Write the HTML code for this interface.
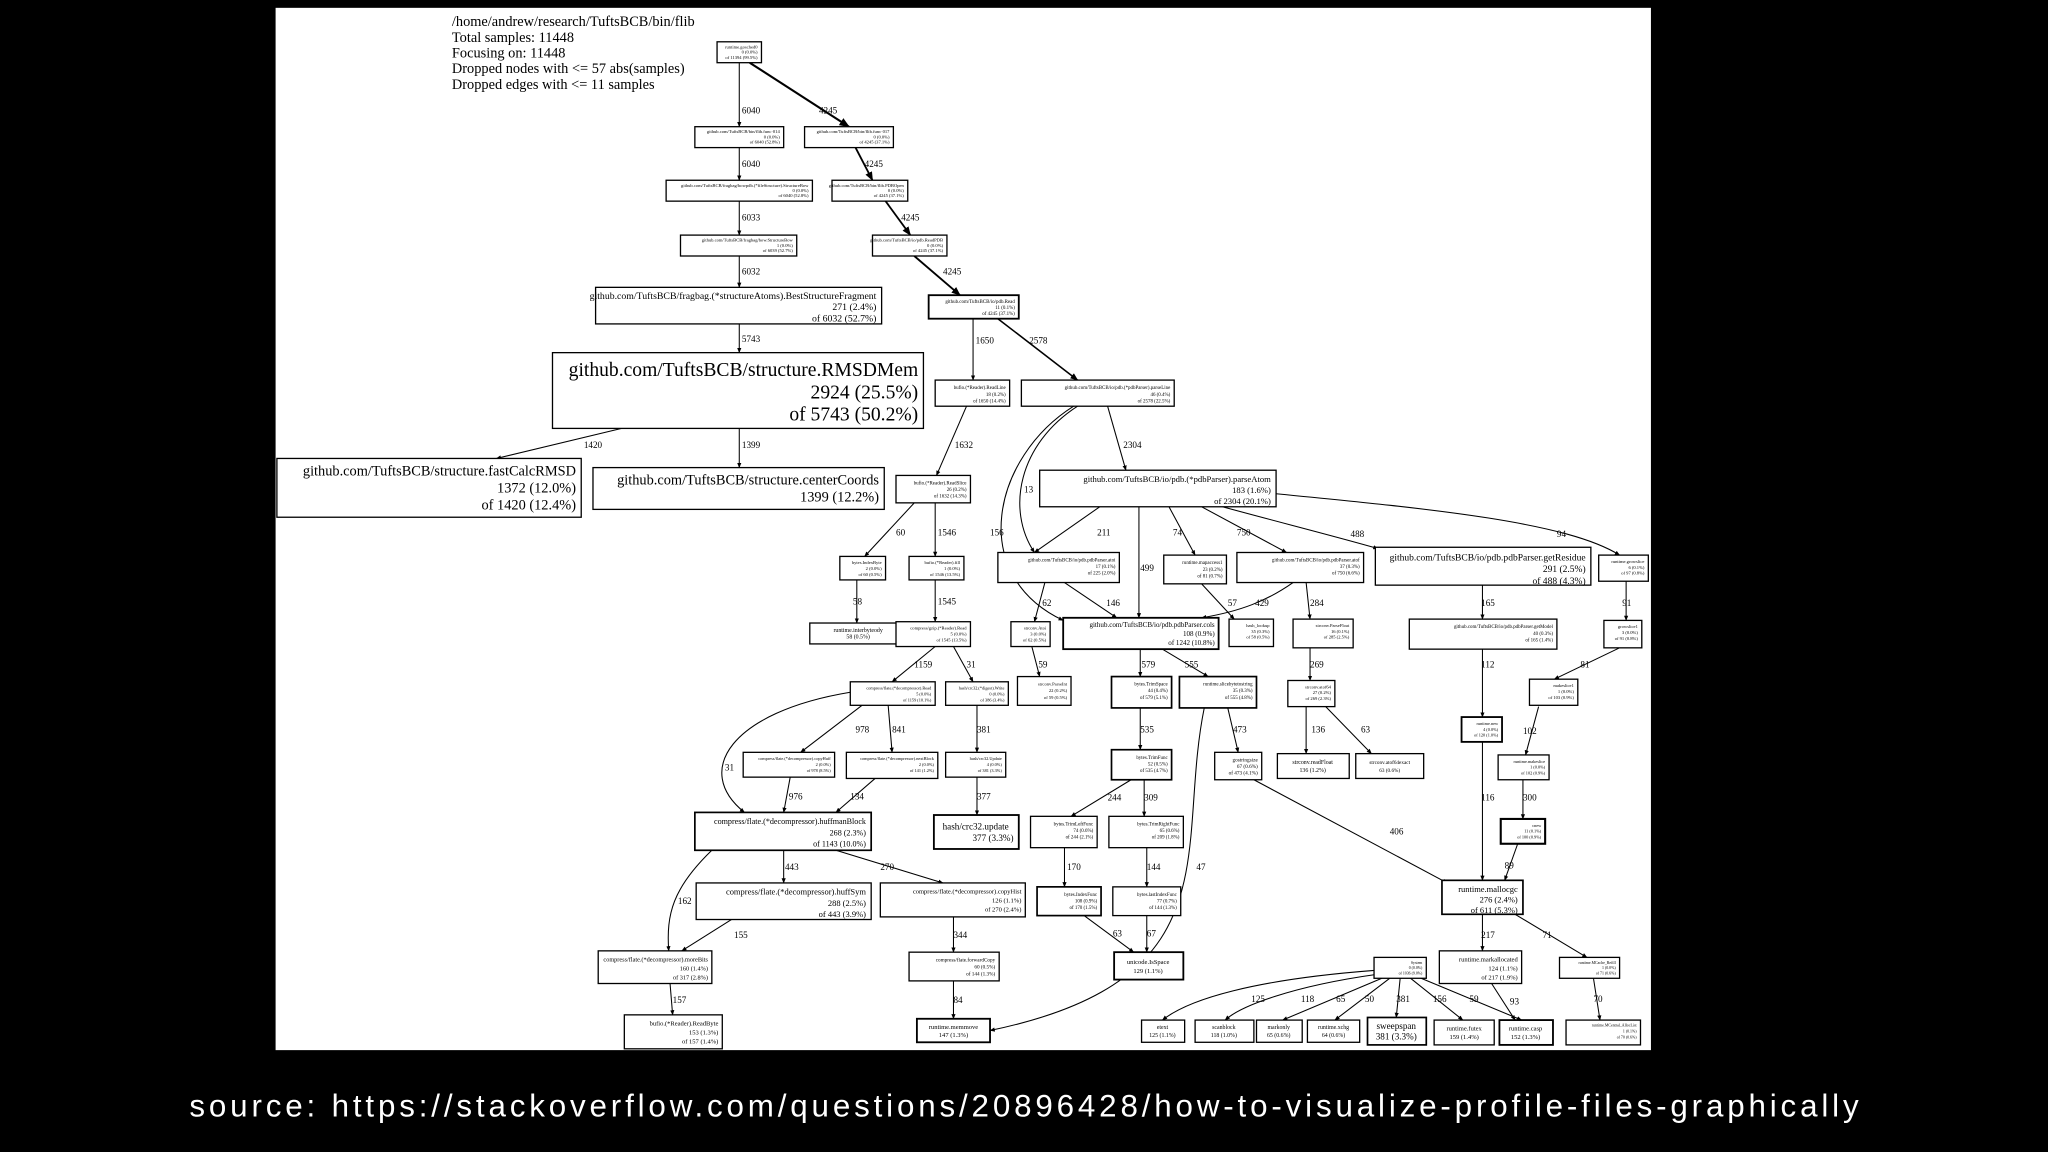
<!DOCTYPE html>
<html><head><meta charset="utf-8"><style>
html,body{margin:0;padding:0;background:#000;width:2048px;height:1152px;overflow:hidden}
svg{display:block}
.n{fill:#fff;stroke:#000;stroke-width:1}
.t{font-family:"Liberation Serif",serif;fill:#000}
.e{stroke:#000;stroke-width:0.8;fill:none;marker-end:url(#a)}
.l{font-family:"Liberation Serif",serif;font-size:7px;fill:#000}
</style></head><body>
<svg width="2048" height="1152" viewBox="0 0 1568 882" xmlns="http://www.w3.org/2000/svg">
<defs><marker id="a" viewBox="0 0 10 10" refX="9" refY="5" markerWidth="5" markerHeight="5" orient="auto"><path d="M0,1 L10,5 L0,9 z" fill="#000"/></marker></defs>
<rect x="0" y="0" width="1568" height="882" fill="#000"/>
<rect x="211" y="6" width="1053" height="798" fill="#fff"/>
<g class="t" font-size="11">
<text x="346" y="20">/home/andrew/research/TuftsBCB/bin/flib</text>
<text x="346" y="32">Total samples: 11448</text>
<text x="346" y="44">Focusing on: 11448</text>
<text x="346" y="56">Dropped nodes with &lt;= 57 abs(samples)</text>
<text x="346" y="68">Dropped edges with &lt;= 11 samples</text>
</g>
<g>
<path class="e" d="M566,48 L566,97"/><text class="l" x="568" y="87">6040</text>
<path class="e" d="M574,48 L650,97" style="stroke-width:1.6"/><text class="l" x="627" y="87">4245</text>
<path class="e" d="M566,113 L566,138"/><text class="l" x="568" y="128">6040</text>
<path class="e" d="M655,113 L668,138" style="stroke-width:1.4"/><text class="l" x="662" y="128">4245</text>
<path class="e" d="M566,154 L566,180"/><text class="l" x="568" y="169">6033</text>
<path class="e" d="M678,154 L697,180" style="stroke-width:1.4"/><text class="l" x="690" y="169">4245</text>
<path class="e" d="M566,196 L566,220"/><text class="l" x="568" y="210">6032</text>
<path class="e" d="M700,196 L735,226" style="stroke-width:1.4"/><text class="l" x="722" y="210">4245</text>
<path class="e" d="M566,248 L566,270"/><text class="l" x="568" y="262">5743</text>
<path class="e" d="M476,328 L380,351"/><text class="l" x="447" y="343">1420</text>
<path class="e" d="M566,328 L566,358"/><text class="l" x="568" y="343">1399</text>
<path class="e" d="M745,244 L745,291"/><text class="l" x="747" y="263">1650</text>
<path class="e" d="M764,244 L825,291" style="stroke-width:1.2"/><text class="l" x="788" y="263">2578</text>
<path class="e" d="M740,311 L717,364"/><text class="l" x="731" y="343">1632</text>
<path class="e" d="M848,311 L862,360"/><text class="l" x="860" y="343">2304</text>
<path class="e" d="M825,311 C780,340 770,390 792,423"/><text class="l" x="784" y="377">13</text>
<path class="e" d="M822,311 C760,350 740,440 814,475"/><text class="l" x="758" y="410">156</text>
<path class="e" d="M700,385 L662,426"/><text class="l" x="686" y="410">60</text>
<path class="e" d="M716,385 L716,426"/><text class="l" x="718" y="410">1546</text>
<path class="e" d="M656,444 L656,477"/><text class="l" x="653" y="463">58</text>
<path class="e" d="M716,444 L716,476"/><text class="l" x="718" y="463">1545</text>
<path class="e" d="M842,388 L792,423"/><text class="l" x="840" y="410">211</text>
<path class="e" d="M872,388 L872,473"/><text class="l" x="873" y="437">499</text>
<path class="e" d="M895,388 L915,425"/><text class="l" x="898" y="410">74</text>
<path class="e" d="M920,388 L985,423"/><text class="l" x="947" y="410">750</text>
<path class="e" d="M936,388 C980,400 1020,410 1055,420"/><text class="l" x="1034" y="411">488</text>
<path class="e" d="M977,378 C1100,390 1200,400 1240,425"/><text class="l" x="1192" y="411">94</text>
<path class="e" d="M800,446 L792,476"/><text class="l" x="798" y="464">62</text>
<path class="e" d="M815,446 L855,473"/><text class="l" x="847" y="464">146</text>
<path class="e" d="M920,447 L945,474"/><text class="l" x="940" y="464">57</text>
<path class="e" d="M990,446 C970,460 950,468 920,473"/><text class="l" x="961" y="464">429</text>
<path class="e" d="M1000,446 L1003,474"/><text class="l" x="1003" y="464">284</text>
<path class="e" d="M1135,448 L1135,474"/><text class="l" x="1134" y="464">165</text>
<path class="e" d="M1245,445 L1245,475"/><text class="l" x="1242" y="464">91</text>
<path class="e" d="M790,495 L796,518"/><text class="l" x="795" y="511">59</text>
<path class="e" d="M873,497 L873,518"/><text class="l" x="874" y="511">579</text>
<path class="e" d="M890,497 L925,518"/><text class="l" x="907" y="511">555</text>
<path class="e" d="M1003,496 L1003,521"/><text class="l" x="1003" y="511">269</text>
<path class="e" d="M1135,497 L1135,549"/><text class="l" x="1134" y="511">112</text>
<path class="e" d="M1240,496 L1190,520"/><text class="l" x="1210" y="511">81</text>
<path class="e" d="M716,495 L683,522"/><text class="l" x="700" y="511">1159</text>
<path class="e" d="M730,495 L745,522"/><text class="l" x="740" y="511">31</text>
<path class="e" d="M660,540 L613,576"/><text class="l" x="655" y="561">978</text>
<path class="e" d="M680,540 L683,576"/><text class="l" x="683" y="561">841</text>
<path class="e" d="M651,530 C560,545 530,590 570,622"/><text class="l" x="555" y="590">31</text>
<path class="e" d="M605,595 L600,622"/><text class="l" x="604" y="612">976</text>
<path class="e" d="M670,596 L640,622"/><text class="l" x="651" y="612">134</text>
<path class="e" d="M748,540 L748,576"/><text class="l" x="748" y="561">381</text>
<path class="e" d="M748,595 L748,624"/><text class="l" x="748" y="612">377</text>
<path class="e" d="M873,542 L873,574"/><text class="l" x="873" y="561">535</text>
<path class="e" d="M940,542 L948,576"/><text class="l" x="944" y="561">473</text>
<path class="e" d="M922,542 C900,650 945,750 758,789"/><text class="l" x="916" y="666">47</text>
<path class="e" d="M1000,541 L1000,577"/><text class="l" x="1004" y="561">136</text>
<path class="e" d="M1015,541 L1050,577"/><text class="l" x="1042" y="561">63</text>
<path class="e" d="M1135,568 L1135,674"/><text class="l" x="1134" y="613">116</text>
<path class="e" d="M1178,541 L1168,578"/><text class="l" x="1166" y="562">102</text>
<path class="e" d="M1166,597 L1166,627"/><text class="l" x="1166" y="613">300</text>
<path class="e" d="M1162,646 L1152,674"/><text class="l" x="1152" y="665">89</text>
<path class="e" d="M960,597 L1108,676"/><text class="l" x="1064" y="639">406</text>
<path class="e" d="M866,597 L820,625"/><text class="l" x="848" y="613">244</text>
<path class="e" d="M876,597 L876,625"/><text class="l" x="876" y="613">309</text>
<path class="e" d="M815,649 L815,679"/><text class="l" x="817" y="666">170</text>
<path class="e" d="M878,649 L878,679"/><text class="l" x="878" y="666">144</text>
<path class="e" d="M830,701 L868,729"/><text class="l" x="852" y="717">63</text>
<path class="e" d="M878,701 L878,729"/><text class="l" x="878" y="717">67</text>
<path class="e" d="M600,651 L600,676"/><text class="l" x="601" y="666">443</text>
<path class="e" d="M640,651 L722,676"/><text class="l" x="674" y="666">270</text>
<path class="e" d="M545,651 C515,680 510,700 512,728"/><text class="l" x="519" y="692">162</text>
<path class="e" d="M560,704 L522,728"/><text class="l" x="562" y="718">155</text>
<path class="e" d="M730,702 L730,729"/><text class="l" x="730" y="718">344</text>
<path class="e" d="M513,753 L515,777"/><text class="l" x="515" y="768">157</text>
<path class="e" d="M730,751 L730,780"/><text class="l" x="730" y="768">84</text>
<path class="e" d="M1135,700 L1135,728"/><text class="l" x="1134" y="718">217</text>
<path class="e" d="M1160,700 L1215,733"/><text class="l" x="1181" y="718">71</text>
<path class="e" d="M1142,753 L1160,781"/><text class="l" x="1156" y="769">93</text>
<path class="e" d="M1220,749 L1225,781"/><text class="l" x="1220" y="767">70</text>
<path class="e" d="M1052,743 C960,750 910,765 890,781"/><text class="l" x="958" y="767">125</text>
<path class="e" d="M1054,746 C990,755 950,770 938,781"/><text class="l" x="996" y="767">118</text>
<path class="e" d="M1058,749 L982,781"/><text class="l" x="1023" y="767">65</text>
<path class="e" d="M1064,749 L1022,781"/><text class="l" x="1045" y="767">50</text>
<path class="e" d="M1072,749 L1069,779"/><text class="l" x="1069" y="767">381</text>
<path class="e" d="M1080,749 L1120,781"/><text class="l" x="1097" y="767">156</text>
<path class="e" d="M1088,749 L1165,781"/><text class="l" x="1125" y="767">59</text>
</g>
<g class="t">
<rect class="n" x="549" y="32" width="34" height="16"/><text font-size="3.5" x="580" y="37" text-anchor="end"><tspan>runtime.gosched0</tspan><tspan x="580" dy="4">0 (0.0%)</tspan><tspan x="580" dy="4">of 11394 (99.5%)</tspan></text>
<rect class="n" x="532" y="97" width="68" height="16"/><text font-size="3.5" x="597" y="102" text-anchor="end"><tspan>github.com/TuftsBCB/bin/flib.func·014</tspan><tspan x="597" dy="4">0 (0.0%)</tspan><tspan x="597" dy="4">of 6040 (52.8%)</tspan></text>
<rect class="n" x="616" y="97" width="68" height="16"/><text font-size="3.5" x="681" y="102" text-anchor="end"><tspan>github.com/TuftsBCB/bin/flib.func·017</tspan><tspan x="681" dy="4">0 (0.0%)</tspan><tspan x="681" dy="4">of 4245 (37.1%)</tspan></text>
<rect class="n" x="510" y="138" width="112" height="16"/><text font-size="3.5" x="619" y="143" text-anchor="end"><tspan>github.com/TuftsBCB/fragbag/bowpdb.(*fileStructure).StructureBow</tspan><tspan x="619" dy="4">0 (0.0%)</tspan><tspan x="619" dy="4">of 6040 (52.8%)</tspan></text>
<rect class="n" x="637" y="138" width="58" height="16"/><text font-size="3.5" x="692" y="143" text-anchor="end"><tspan>github.com/TuftsBCB/bin/flib.PDBOpen</tspan><tspan x="692" dy="4">0 (0.0%)</tspan><tspan x="692" dy="4">of 4245 (37.1%)</tspan></text>
<rect class="n" x="521" y="180" width="89" height="16"/><text font-size="3.5" x="607" y="185" text-anchor="end"><tspan>github.com/TuftsBCB/fragbag/bow.StructureBow</tspan><tspan x="607" dy="4">1 (0.0%)</tspan><tspan x="607" dy="4">of 6039 (52.7%)</tspan></text>
<rect class="n" x="668" y="180" width="57" height="16"/><text font-size="3.5" x="722" y="185" text-anchor="end"><tspan>github.com/TuftsBCB/io/pdb.ReadPDB</tspan><tspan x="722" dy="4">0 (0.0%)</tspan><tspan x="722" dy="4">of 4245 (37.1%)</tspan></text>
<rect class="n" x="456" y="220" width="219" height="28"/><text font-size="7.5" x="671" y="229" text-anchor="end"><tspan>github.com/TuftsBCB/fragbag.(*structureAtoms).BestStructureFragment</tspan><tspan x="671" dy="8.5">271 (2.4%)</tspan><tspan x="671" dy="8.5">of 6032 (52.7%)</tspan></text>
<rect class="n" x="711" y="226" width="69" height="18" style="stroke-width:1.4"/><text font-size="3.8" x="777" y="232" text-anchor="end"><tspan>github.com/TuftsBCB/io/pdb.Read</tspan><tspan x="777" dy="4.5">11 (0.1%)</tspan><tspan x="777" dy="4.5">of 4245 (37.1%)</tspan></text>
<rect class="n" x="423" y="270" width="284" height="58"/><text font-size="15" x="703" y="288" text-anchor="end"><tspan>github.com/TuftsBCB/structure.RMSDMem</tspan><tspan x="703" dy="17">2924 (25.5%)</tspan><tspan x="703" dy="17">of 5743 (50.2%)</tspan></text>
<rect class="n" x="716" y="291" width="57" height="20"/><text font-size="3.8" x="770" y="298" text-anchor="end"><tspan>bufio.(*Reader).ReadLine</tspan><tspan x="770" dy="5">18 (0.2%)</tspan><tspan x="770" dy="5">of 1650 (14.4%)</tspan></text>
<rect class="n" x="782" y="291" width="117" height="20"/><text font-size="3.8" x="896" y="298" text-anchor="end"><tspan>github.com/TuftsBCB/io/pdb.(*pdbParser).parseLine</tspan><tspan x="896" dy="5">46 (0.4%)</tspan><tspan x="896" dy="5">of 2578 (22.5%)</tspan></text>
<rect class="n" x="212" y="351" width="233" height="45"/><text font-size="11" x="441" y="364" text-anchor="end"><tspan>github.com/TuftsBCB/structure.fastCalcRMSD</tspan><tspan x="441" dy="13">1372 (12.0%)</tspan><tspan x="441" dy="13">of 1420 (12.4%)</tspan></text>
<rect class="n" x="454" y="358" width="223" height="32"/><text font-size="11" x="673" y="371" text-anchor="end"><tspan>github.com/TuftsBCB/structure.centerCoords</tspan><tspan x="673" dy="13">1399 (12.2%)</tspan></text>
<rect class="n" x="686" y="364" width="57" height="21"/><text font-size="3.8" x="740" y="371" text-anchor="end"><tspan>bufio.(*Reader).ReadSlice</tspan><tspan x="740" dy="5">26 (0.2%)</tspan><tspan x="740" dy="5">of 1632 (14.3%)</tspan></text>
<rect class="n" x="796" y="360" width="181" height="28"/><text font-size="6.6" x="973" y="369" text-anchor="end"><tspan>github.com/TuftsBCB/io/pdb.(*pdbParser).parseAtom</tspan><tspan x="973" dy="8.5">183 (1.6%)</tspan><tspan x="973" dy="8.5">of 2304 (20.1%)</tspan></text>
<rect class="n" x="643" y="426" width="35" height="18"/><text font-size="3.5" x="675" y="432" text-anchor="end"><tspan>bytes.IndexByte</tspan><tspan x="675" dy="4.5">2 (0.0%)</tspan><tspan x="675" dy="4.5">of 60 (0.5%)</tspan></text>
<rect class="n" x="696" y="426" width="42" height="18"/><text font-size="3.5" x="735" y="432" text-anchor="end"><tspan>bufio.(*Reader).fill</tspan><tspan x="735" dy="4.5">1 (0.0%)</tspan><tspan x="735" dy="4.5">of 1546 (13.5%)</tspan></text>
<rect class="n" x="764" y="423" width="93" height="23"/><text font-size="3.8" x="854" y="430" text-anchor="end"><tspan>github.com/TuftsBCB/io/pdb.pdbParser.atoi</tspan><tspan x="854" dy="5">17 (0.1%)</tspan><tspan x="854" dy="5">of 225 (2.0%)</tspan></text>
<rect class="n" x="891" y="425" width="48" height="22"/><text font-size="3.8" x="936" y="432" text-anchor="end"><tspan>runtime.mapaccess1</tspan><tspan x="936" dy="5">23 (0.2%)</tspan><tspan x="936" dy="5">of 81 (0.7%)</tspan></text>
<rect class="n" x="947" y="423" width="97" height="23"/><text font-size="3.8" x="1041" y="430" text-anchor="end"><tspan>github.com/TuftsBCB/io/pdb.pdbParser.atof</tspan><tspan x="1041" dy="5">37 (0.3%)</tspan><tspan x="1041" dy="5">of 750 (6.6%)</tspan></text>
<rect class="n" x="1053" y="419" width="165" height="29"/><text font-size="7.3" x="1214" y="429" text-anchor="end"><tspan>github.com/TuftsBCB/io/pdb.pdbParser.getResidue</tspan><tspan x="1214" dy="9">291 (2.5%)</tspan><tspan x="1214" dy="9">of 488 (4.3%)</tspan></text>
<rect class="n" x="1224" y="425" width="38" height="20"/><text font-size="3.5" x="1259" y="431" text-anchor="end"><tspan>runtime.growslice</tspan><tspan x="1259" dy="4.5">6 (0.1%)</tspan><tspan x="1259" dy="4.5">of 97 (0.8%)</tspan></text>
<rect class="n" x="620" y="477" width="74" height="16"/><text font-size="4.5" x="657" y="484" text-anchor="middle"><tspan>runtime.interbyteody</tspan><tspan x="657" dy="5">58 (0.5%)</tspan></text>
<rect class="n" x="686" y="476" width="57" height="19"/><text font-size="3.5" x="740" y="482" text-anchor="end"><tspan>compress/gzip.(*Reader).Read</tspan><tspan x="740" dy="4.5">5 (0.0%)</tspan><tspan x="740" dy="4.5">of 1545 (13.5%)</tspan></text>
<rect class="n" x="774" y="476" width="30" height="19"/><text font-size="3.5" x="801" y="482" text-anchor="end"><tspan>strconv.Atoi</tspan><tspan x="801" dy="4.5">3 (0.0%)</tspan><tspan x="801" dy="4.5">of 62 (0.5%)</tspan></text>
<rect class="n" x="814" y="473" width="119" height="24" style="stroke-width:1.4"/><text font-size="5.4" x="930" y="480" text-anchor="end"><tspan>github.com/TuftsBCB/io/pdb.pdbParser.cols</tspan><tspan x="930" dy="7">108 (0.9%)</tspan><tspan x="930" dy="7">of 1242 (10.8%)</tspan></text>
<rect class="n" x="941" y="474" width="34" height="21"/><text font-size="3.5" x="972" y="480" text-anchor="end"><tspan>hash_lookup</tspan><tspan x="972" dy="4.5">35 (0.3%)</tspan><tspan x="972" dy="4.5">of 58 (0.5%)</tspan></text>
<rect class="n" x="990" y="474" width="46" height="22"/><text font-size="3.5" x="1033" y="480" text-anchor="end"><tspan>strconv.ParseFloat</tspan><tspan x="1033" dy="4.5">16 (0.1%)</tspan><tspan x="1033" dy="4.5">of 285 (2.5%)</tspan></text>
<rect class="n" x="1079" y="474" width="113" height="23"/><text font-size="3.8" x="1189" y="481" text-anchor="end"><tspan>github.com/TuftsBCB/io/pdb.pdbParser.getModel</tspan><tspan x="1189" dy="5">40 (0.3%)</tspan><tspan x="1189" dy="5">of 165 (1.4%)</tspan></text>
<rect class="n" x="1228" y="475" width="29" height="21"/><text font-size="3.5" x="1254" y="481" text-anchor="end"><tspan>growslice1</tspan><tspan x="1254" dy="4.5">3 (0.0%)</tspan><tspan x="1254" dy="4.5">of 91 (0.8%)</tspan></text>
<rect class="n" x="651" y="522" width="65" height="18"/><text font-size="3.3" x="713" y="528" text-anchor="end"><tspan>compress/flate.(*decompressor).Read</tspan><tspan x="713" dy="4.5">5 (0.0%)</tspan><tspan x="713" dy="4.5">of 1159 (10.1%)</tspan></text>
<rect class="n" x="724" y="522" width="48" height="18"/><text font-size="3.3" x="769" y="528" text-anchor="end"><tspan>hash/crc32.(*digest).Write</tspan><tspan x="769" dy="4.5">0 (0.0%)</tspan><tspan x="769" dy="4.5">of 386 (3.4%)</tspan></text>
<rect class="n" x="779" y="518" width="41" height="22"/><text font-size="3.5" x="817" y="525" text-anchor="end"><tspan>strconv.ParseInt</tspan><tspan x="817" dy="5">22 (0.2%)</tspan><tspan x="817" dy="5">of 59 (0.5%)</tspan></text>
<rect class="n" x="851" y="518" width="46" height="24" style="stroke-width:1.3"/><text font-size="3.8" x="894" y="525" text-anchor="end"><tspan>bytes.TrimSpace</tspan><tspan x="894" dy="5">44 (0.4%)</tspan><tspan x="894" dy="5">of 579 (5.1%)</tspan></text>
<rect class="n" x="903" y="518" width="59" height="24" style="stroke-width:1.3"/><text font-size="3.8" x="959" y="525" text-anchor="end"><tspan>runtime.slicebytetostring</tspan><tspan x="959" dy="5">35 (0.3%)</tspan><tspan x="959" dy="5">of 555 (4.8%)</tspan></text>
<rect class="n" x="986" y="521" width="36" height="20"/><text font-size="3.5" x="1019" y="527" text-anchor="end"><tspan>strconv.atof64</tspan><tspan x="1019" dy="4.5">27 (0.2%)</tspan><tspan x="1019" dy="4.5">of 269 (2.3%)</tspan></text>
<rect class="n" x="1171" y="520" width="37" height="20"/><text font-size="3.5" x="1205" y="526" text-anchor="end"><tspan>makeslice1</tspan><tspan x="1205" dy="4.5">1 (0.0%)</tspan><tspan x="1205" dy="4.5">of 103 (0.9%)</tspan></text>
<rect class="n" x="1119" y="549" width="31" height="19" style="stroke-width:1.4"/><text font-size="3.3" x="1147" y="555" text-anchor="end"><tspan>runtime.new</tspan><tspan x="1147" dy="4.5">4 (0.0%)</tspan><tspan x="1147" dy="4.5">of 120 (1.0%)</tspan></text>
<rect class="n" x="569" y="576" width="70" height="19"/><text font-size="3.3" x="636" y="582" text-anchor="end"><tspan>compress/flate.(*decompressor).copyHuff</tspan><tspan x="636" dy="4.5">2 (0.0%)</tspan><tspan x="636" dy="4.5">of 978 (8.5%)</tspan></text>
<rect class="n" x="648" y="576" width="70" height="20"/><text font-size="3.3" x="715" y="582" text-anchor="end"><tspan>compress/flate.(*decompressor).nextBlock</tspan><tspan x="715" dy="4.5">2 (0.0%)</tspan><tspan x="715" dy="4.5">of 141 (1.2%)</tspan></text>
<rect class="n" x="724" y="576" width="46" height="19"/><text font-size="3.3" x="767" y="582" text-anchor="end"><tspan>hash/crc32.Update</tspan><tspan x="767" dy="4.5">4 (0.0%)</tspan><tspan x="767" dy="4.5">of 381 (3.3%)</tspan></text>
<rect class="n" x="851" y="574" width="46" height="23" style="stroke-width:1.3"/><text font-size="3.8" x="894" y="581" text-anchor="end"><tspan>bytes.TrimFunc</tspan><tspan x="894" dy="5">52 (0.5%)</tspan><tspan x="894" dy="5">of 535 (4.7%)</tspan></text>
<rect class="n" x="930" y="576" width="36" height="21"/><text font-size="4" x="963" y="583" text-anchor="end"><tspan>gostringsize</tspan><tspan x="963" dy="5">67 (0.6%)</tspan><tspan x="963" dy="5">of 473 (4.1%)</tspan></text>
<rect class="n" x="978" y="577" width="55" height="19"/><text font-size="4.5" x="1005" y="585" text-anchor="middle"><tspan>strconv.readFloat</tspan><tspan x="1005" dy="6">136 (1.2%)</tspan></text>
<rect class="n" x="1038" y="577" width="52" height="19"/><text font-size="4" x="1064" y="585" text-anchor="middle"><tspan>strconv.atof64exact</tspan><tspan x="1064" dy="6">63 (0.6%)</tspan></text>
<rect class="n" x="1147" y="578" width="39" height="19"/><text font-size="3.3" x="1183" y="584" text-anchor="end"><tspan>runtime.makeslice</tspan><tspan x="1183" dy="4.5">1 (0.0%)</tspan><tspan x="1183" dy="4.5">of 102 (0.9%)</tspan></text>
<rect class="n" x="1149" y="627" width="34" height="19" style="stroke-width:1.6"/><text font-size="3.3" x="1180" y="633" text-anchor="end"><tspan>cnew</tspan><tspan x="1180" dy="4.5">11 (0.1%)</tspan><tspan x="1180" dy="4.5">of 100 (0.9%)</tspan></text>
<rect class="n" x="532" y="622" width="135" height="29" style="stroke-width:1.3"/><text font-size="6.2" x="663" y="631" text-anchor="end"><tspan>compress/flate.(*decompressor).huffmanBlock</tspan><tspan x="663" dy="8.5">268 (2.3%)</tspan><tspan x="663" dy="8.5">of 1143 (10.0%)</tspan></text>
<rect class="n" x="715" y="624" width="65" height="26" style="stroke-width:1.4"/><text font-size="7" x="747" y="635" text-anchor="middle"><tspan>hash/crc32.update</tspan><tspan x="776" dy="9" text-anchor="end">377 (3.3%)</tspan></text>
<rect class="n" x="789" y="625" width="51" height="24"/><text font-size="3.8" x="837" y="632" text-anchor="end"><tspan>bytes.TrimLeftFunc</tspan><tspan x="837" dy="5">74 (0.6%)</tspan><tspan x="837" dy="5">of 244 (2.1%)</tspan></text>
<rect class="n" x="849" y="625" width="57" height="24"/><text font-size="3.8" x="903" y="632" text-anchor="end"><tspan>bytes.TrimRightFunc</tspan><tspan x="903" dy="5">65 (0.6%)</tspan><tspan x="903" dy="5">of 209 (1.8%)</tspan></text>
<rect class="n" x="533" y="676" width="134" height="28"/><text font-size="6.5" x="663" y="685" text-anchor="end"><tspan>compress/flate.(*decompressor).huffSym</tspan><tspan x="663" dy="8.5">288 (2.5%)</tspan><tspan x="663" dy="8.5">of 443 (3.9%)</tspan></text>
<rect class="n" x="674" y="676" width="111" height="26"/><text font-size="5" x="782" y="684" text-anchor="end"><tspan>compress/flate.(*decompressor).copyHist</tspan><tspan x="782" dy="7">126 (1.1%)</tspan><tspan x="782" dy="7">of 270 (2.4%)</tspan></text>
<rect class="n" x="1104" y="674" width="62" height="26" style="stroke-width:1.3"/><text font-size="6.5" x="1162" y="683" text-anchor="end"><tspan>runtime.mallocgc</tspan><tspan x="1162" dy="8">276 (2.4%)</tspan><tspan x="1162" dy="8">of 611 (5.3%)</tspan></text>
<rect class="n" x="794" y="679" width="49" height="22" style="stroke-width:1.3"/><text font-size="3.8" x="840" y="686" text-anchor="end"><tspan>bytes.IndexFunc</tspan><tspan x="840" dy="5">108 (0.9%)</tspan><tspan x="840" dy="5">of 170 (1.5%)</tspan></text>
<rect class="n" x="852" y="679" width="52" height="22"/><text font-size="3.8" x="901" y="686" text-anchor="end"><tspan>bytes.lastIndexFunc</tspan><tspan x="901" dy="5">77 (0.7%)</tspan><tspan x="901" dy="5">of 144 (1.3%)</tspan></text>
<rect class="n" x="458" y="728" width="87" height="25"/><text font-size="4.8" x="542" y="736" text-anchor="end"><tspan>compress/flate.(*decompressor).moreBits</tspan><tspan x="542" dy="7">160 (1.4%)</tspan><tspan x="542" dy="7">of 317 (2.8%)</tspan></text>
<rect class="n" x="696" y="729" width="69" height="22"/><text font-size="4" x="762" y="736" text-anchor="end"><tspan>compress/flate.forwardCopy</tspan><tspan x="762" dy="5.5">60 (0.5%)</tspan><tspan x="762" dy="5.5">of 144 (1.3%)</tspan></text>
<rect class="n" x="853" y="729" width="53" height="21" style="stroke-width:1.4"/><text font-size="5" x="879" y="738" text-anchor="middle"><tspan>unicode.IsSpace</tspan><tspan x="879" dy="7">129 (1.1%)</tspan></text>
<rect class="n" x="1052" y="733" width="40" height="16"/><text font-size="3" x="1089" y="738" text-anchor="end"><tspan>System</tspan><tspan x="1089" dy="4">0 (0.0%)</tspan><tspan x="1089" dy="4">of 1036 (9.0%)</tspan></text>
<rect class="n" x="1102" y="728" width="63" height="25"/><text font-size="5" x="1162" y="736" text-anchor="end"><tspan>runtime.markallocated</tspan><tspan x="1162" dy="7">124 (1.1%)</tspan><tspan x="1162" dy="7">of 217 (1.9%)</tspan></text>
<rect class="n" x="1194" y="733" width="46" height="16"/><text font-size="3" x="1237" y="738" text-anchor="end"><tspan>runtime.MCache_Refill</tspan><tspan x="1237" dy="4">1 (0.0%)</tspan><tspan x="1237" dy="4">of 71 (0.6%)</tspan></text>
<rect class="n" x="478" y="777" width="75" height="26"/><text font-size="5" x="550" y="785" text-anchor="end"><tspan>bufio.(*Reader).ReadByte</tspan><tspan x="550" dy="7">153 (1.3%)</tspan><tspan x="550" dy="7">of 157 (1.4%)</tspan></text>
<rect class="n" x="702" y="780" width="56" height="18" style="stroke-width:1.4"/><text font-size="5" x="730" y="788" text-anchor="middle">runtime.memmove<tspan x="730" dy="6">147 (1.3%)</tspan></text>
<rect class="n" x="874" y="781" width="33" height="17"/><text font-size="4.5" x="890" y="788" text-anchor="middle">etext<tspan x="890" dy="6">125 (1.1%)</tspan></text>
<rect class="n" x="915" y="781" width="45" height="17"/><text font-size="4.5" x="937" y="788" text-anchor="middle">scanblock<tspan x="937" dy="6">118 (1.0%)</tspan></text>
<rect class="n" x="962" y="781" width="35" height="17"/><text font-size="4.5" x="979" y="788" text-anchor="middle">markonly<tspan x="979" dy="6">65 (0.6%)</tspan></text>
<rect class="n" x="1001" y="781" width="40" height="17"/><text font-size="4.5" x="1021" y="788" text-anchor="middle">runtime.xchg<tspan x="1021" dy="6">64 (0.6%)</tspan></text>
<rect class="n" x="1047" y="779" width="45" height="21" style="stroke-width:1.3"/><text font-size="7" x="1069" y="788" text-anchor="middle">sweepspan<tspan x="1069" dy="8">381 (3.3%)</tspan></text>
<rect class="n" x="1098" y="781" width="46" height="19"/><text font-size="5" x="1121" y="789" text-anchor="middle">runtime.futex<tspan x="1121" dy="6.5">159 (1.4%)</tspan></text>
<rect class="n" x="1148" y="781" width="41" height="19" style="stroke-width:1.4"/><text font-size="5" x="1168" y="789" text-anchor="middle">runtime.casp<tspan x="1168" dy="6.5">152 (1.3%)</tspan></text>
<rect class="n" x="1199" y="781" width="57" height="19"/><text font-size="3" x="1253" y="786" text-anchor="end"><tspan>runtime.MCentral_AllocList</tspan><tspan x="1253" dy="4.5">1 (0.1%)</tspan><tspan x="1253" dy="4.5">of 70 (0.6%)</tspan></text>
</g>
<text x="145" y="855" textLength="1278" lengthAdjust="spacing" font-family="Liberation Sans, sans-serif" font-size="24" fill="#fff">source: https://stackoverflow.com/questions/20896428/how-to-visualize-profile-files-graphically</text>
</svg>
</body></html>
